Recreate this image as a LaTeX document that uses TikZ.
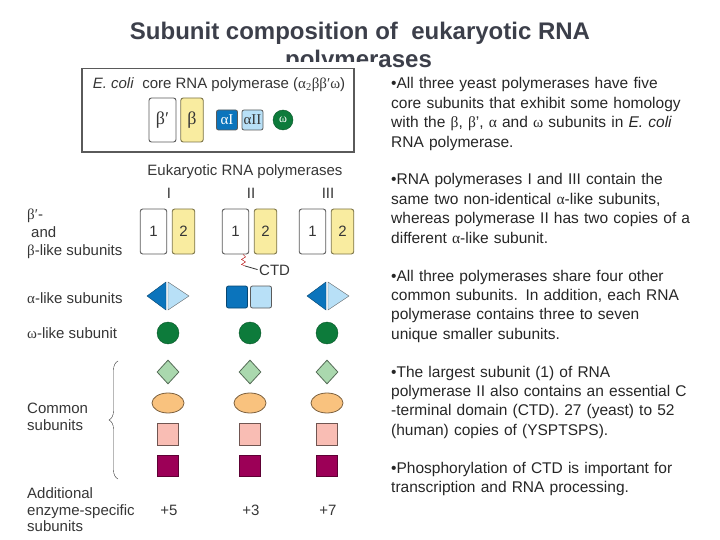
\documentclass[tikz,border=0pt]{standalone}
\usepackage{fontspec}
\setmainfont{Liberation Sans}
\newfontfamily\grk{Liberation Serif}
\usetikzlibrary{%
  calc,arrows.meta,shapes.geometric,%
  decorations.pathreplacing}
\tikzset {>=Stealth}
\definecolor{titlegray}{HTML}{3C3F4A}
\definecolor{figtext}{HTML}{363636}
\definecolor{boxline}{HTML}{5A5A5A}
\definecolor{yell}{HTML}{F9ECA0}
\definecolor{yline}{HTML}{7C7448}
\definecolor{adark}{HTML}{0B74BC}
\definecolor{alight}{HTML}{B8E0F7}
\definecolor{omg}{HTML}{0D7B3B}
\definecolor{dmd}{HTML}{AAD8AE}
\definecolor{ell}{HTML}{F9C27E}
\definecolor{pnk}{HTML}{F9BDB4}
\definecolor{prp}{HTML}{9C0057}
\tikzset{
  lbl/.style={font=\fontsize{15}{18}\selectfont, text=figtext, inner sep=0pt},
  bul/.style={font=\fontsize{15.5}{19.4}\selectfont, text=black!85,
    inner sep=0pt, text width=330pt, align=left, anchor=base west},
  big/.style={draw=boxline, line width=0.9pt, rounded corners=2.5pt, minimum height=45pt,
    inner sep=0pt, font=\fontsize{15}{15}\selectfont, text=figtext},
  bigw/.style={big, fill=white, minimum width=26.5pt},
  bigy/.style={big, fill=yell, draw=yline, minimum width=22.5pt},
  sml/.style={draw=boxline, line width=0.8pt, rounded corners=2pt, minimum width=21pt,
    minimum height=21pt, inner sep=0pt, font=\fontsize{15}{15}\selectfont\grk},
  omega/.style={circle, fill=omg, draw=omg!70!black, minimum size=22pt, inner sep=0pt},
  part/.style={line width=0.8pt, inner sep=0pt},
}

\begin{document}
\begin{tikzpicture}[x=1pt,y=-1pt]
\useasboundingbox (0,0) rectangle (720,540);
% title, partly hidden by the figure
\node[font=\fontsize{24}{24}\selectfont\bfseries, text=titlegray, anchor=base]
  (title1) at (360,40) {Subunit composition of~ eukaryotic RNA};
\node[font=\fontsize{24}{24}\selectfont\bfseries, text=titlegray, anchor=base]
  (title2) at (358.5,68) {polymerases};
\fill[white] (76,62) rectangle (377,160);

% E. coli core enzyme
\node[draw=boxline, line width=1.3pt, minimum width=272pt, minimum height=83.5pt]
  (ecoli) at (218,110.25) {};
\node[lbl] (ecname) at (219,85)
  {\textit{E. coli}~ core RNA polymerase ({\grk α\textsubscript{2}ββ′ω})};
\node[bigw, minimum width=27pt, minimum height=44pt, font=\fontsize{18}{18}\selectfont\grk]
  (ebp) at (162.5,120) {β′};
\node[bigy, minimum height=44pt, font=\fontsize{18}{18}\selectfont\grk] (eb) at (192,120) {β};
\node[sml, fill=adark, text=white, minimum height=20pt] (eaI) at (227,120) {αI};
\node[sml, fill=alight, text=figtext, minimum height=20pt] (eaII) at (252.5,120) {αII};
\node[omega, minimum size=20pt, text=white, font=\fontsize{12}{12}\selectfont\grk]
  (eom) at (283,120) {ω};

% eukaryotic enzymes
\node[lbl] (euk) at (245,172) {Eukaryotic RNA polymerases};
\foreach \c/\n/\more in {168/I/+5, 250/II/+3, 327/III/+7} {
  \node[lbl] (h\n) at (\c+1,193) {\n};
  \node[bigw] (b1\n) at (\c-14.5,231.5) {1};
  \node[bigy] (b2\n) at (\c+15.5,231.5) {2};
  \node[omega] (om\n) at (\c,333) {};
  \node[part, diamond, fill=dmd, draw=dmd!50!black, minimum width=22pt,
    minimum height=24pt] (dm\n) at (\c,372) {};
  \node[part, ellipse, fill=ell, draw=ell!50!black, minimum width=32pt,
    minimum height=20pt] (el\n) at (\c,403) {};
  \node[part, fill=pnk, draw=pnk!45!black, minimum width=21pt,
    minimum height=22pt] (pk\n) at (\c,434) {};
  \node[part, fill=prp, draw=prp!60!black, minimum size=21pt]
    (pp\n) at (\c,465.5) {};
  \node[lbl] (add\n) at (\c+1,510) {\more};
}
% alpha-like subunits
\foreach \c in {168,328} {
  \filldraw[fill=adark, draw=adark!60!black] (\c-2,282) -- (\c-21,296) -- (\c-2,310) -- cycle;
  \filldraw[fill=alight, draw=boxline] (\c,282) -- (\c+21,296) -- (\c,310) -- cycle;
}
\node[sml, fill=adark, draw=adark!60!black, minimum height=22pt] (aII1) at (237,297) {};
\node[sml, fill=alight, minimum height=22pt] (aII2) at (261,297) {};

% CTD tail
\draw[red!70!black, thin] ($(b1II.south)+(7.5,0)$) -- ++(2.5,2.5) -- ++(-4,2.5)
  -- ++(4,2.5) -- ++(-4,2.5) -- ++(3.5,1.5) coordinate (ctd1);
\node[lbl, anchor=west] (ctd) at (259,270) {CTD};
\draw[figtext, thick, shorten >=1.5pt] (ctd1) -- (ctd.west);

% row labels
\node[lbl, anchor=west, align=left] (rbeta) at (27,234)
  {{\grk β′}-\\\hspace{4pt}and\\{\grk β}-like subunits};
\node[lbl, anchor=west] (ralpha) at (27,298) {{\grk α}-like subunits};
\node[lbl, anchor=west] (romega) at (27,333) {{\grk ω}-like subunit};
\node[lbl, anchor=west, align=left, font=\fontsize{15}{17}\selectfont] (rcommon)
  at (27,416.5) {Common\\subunits};
\node[lbl, anchor=west, align=left, font=\fontsize{15}{16.5}\selectfont] (radd)
  at (27,510) {Additional\\enzyme-specific\\subunits};
\draw[figtext, decorate, decoration={brace, amplitude=9pt}]
  (118,479) -- (118,361);

% notes
\node[bul] (p1) at (391,89) {•All three yeast polymerases have five\\
  core subunits that exhibit some homology\\
  with the {\grk β}, {\grk β}', {\grk α} and {\grk ω} subunits in \textit{E. coli}\\
  RNA polymerase.};
\node[bul] (p2) at (391,185) {•RNA polymerases I and III contain the\\
  same two non-identical {\grk α}-like subunits,\\
  whereas polymerase II has two copies of a\\
  different {\grk α}-like subunit.};
\node[bul] (p3) at (391,281) {•All three polymerases share four other\\
  common subunits. In addition, each RNA\\
  polymerase contains three to seven\\
  unique smaller subunits.};
\node[bul] (p4) at (391,377) {•The largest subunit (1) of RNA\\
  polymerase II also contains an essential C\\
  -terminal domain (CTD). 27 (yeast) to 52\\
  (human) copies of (YSPTSPS).};
\node[bul] (p5) at (391,473) {•Phosphorylation of CTD is important for\\
  transcription and RNA processing.};
\end{tikzpicture}
\end{document}
